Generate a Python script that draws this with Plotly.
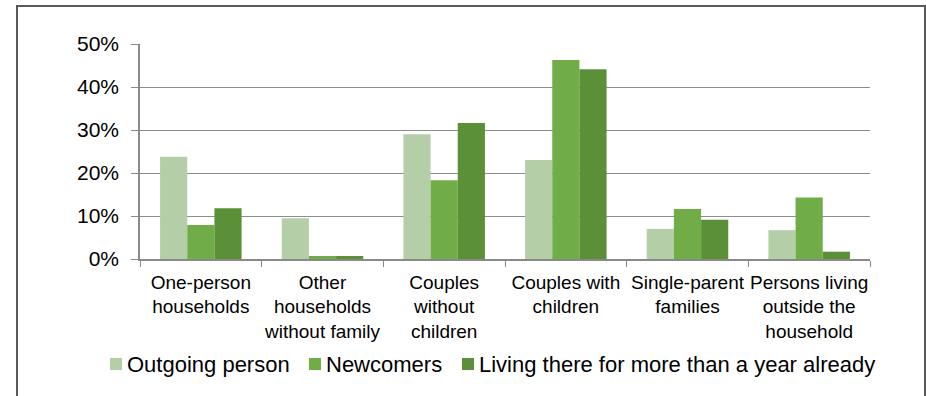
import plotly.graph_objects as go

categories = ["One-person households", "Other households without family", "Couples without children",
              "Couples with children", "Single-parent families", "Persons living outside the household"]
tick_labels = ["One-person<br>households", "Other<br>households<br>without family", "Couples<br>without<br>children",
               "Couples with<br>children", "Single-parent<br>families", "Persons living<br>outside the<br>household"]
series_names = ["Outgoing person", "Newcomers", "Living there for more than a year already"]
outgoing = [23.8, 9.5, 29.0, 23.0, 7.0, 6.7]
newcomers = [7.9, 0.7, 18.3, 46.3, 11.6, 14.3]
living = [11.8, 0.7, 31.6, 44.1, 9.1, 1.7]
colors = ["#b4cea7", "#70ad47", "#5b8f38"]

fig = go.Figure()
for name, vals, col in zip(series_names, [outgoing, newcomers, living], colors):
    fig.add_trace(go.Bar(x=categories, y=vals, name=name, showlegend=False,
                         marker=dict(color=col, line=dict(width=0))))

W, H = 926, 396
L, R, T, B = 140, 56, 44, 137
pw, ph = W - L - R, H - T - B

def px(x):
    return (x - L) / pw

def py(y):
    return (H - B - y) / ph

shapes = [dict(type="rect", xref="paper", yref="paper", x0=px(17), x1=px(925), y0=py(420), y1=py(6),
               line=dict(color="#595959", width=2), fillcolor="rgba(0,0,0,0)", layer="below")]
annotations = []
legend_x = [110, 309, 462]
for name, col, lx in zip(series_names, colors, legend_x):
    shapes.append(dict(type="rect", xref="paper", yref="paper", x0=px(lx), x1=px(lx + 12),
                       y0=py(370), y1=py(358), line=dict(width=0), fillcolor=col))
    annotations.append(dict(text=name, xref="paper", yref="paper", x=px(lx + 15), y=py(364),
                            xanchor="left", yanchor="middle", showarrow=False, font=dict(size=22, color="#000000")))

fig.update_layout(
    width=W, height=H,
    margin=dict(l=L, r=R, t=T, b=B),
    paper_bgcolor="white", plot_bgcolor="white",
    barmode="group", bargap=0.33, bargroupgap=0,
    font=dict(family="Liberation Sans, Arial, sans-serif", color="#000000"),
    showlegend=False,
    shapes=shapes, annotations=annotations,
)
fig.update_xaxes(type="category", tickvals=categories, ticktext=tick_labels, tickson="boundaries",
                 ticks="outside", ticklen=6, tickcolor="#898989", showline=True, linecolor="#898989", linewidth=1.5,
                 showgrid=False, tickfont=dict(size=19), tickangle=0, ticklabelstandoff=5, automargin=False)
fig.update_yaxes(range=[0, 50], dtick=10, ticksuffix="%", ticks="outside", ticklen=7, tickcolor="#898989",
                 showline=True, linecolor="#898989", linewidth=1.5, showgrid=True, gridcolor="#8c8c8c", gridwidth=1,
                 tickfont=dict(size=21), ticklabelstandoff=8, zeroline=False, automargin=False)

fig.write_html("out.html")
